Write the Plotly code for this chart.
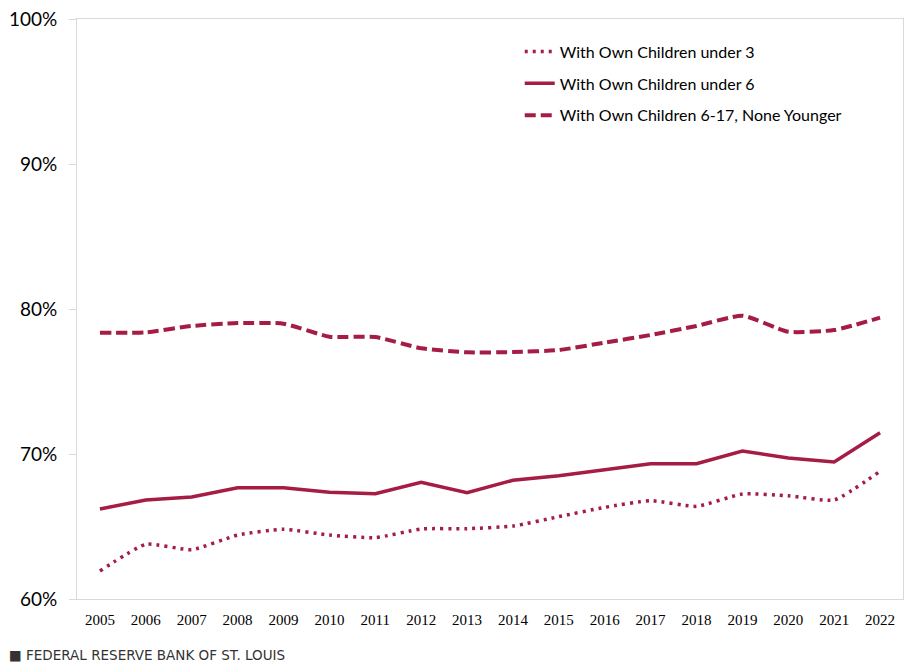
"""Share of mothers in the labor force by age of youngest child, 2005-2022."""

import plotly.graph_objects as go

YEARS = [str(y) for y in range(2005, 2023)]

UNDER_3 = [61.93, 63.77, 63.40, 64.41, 64.81, 64.41, 64.23, 64.83, 64.85,
           65.03, 65.68, 66.32, 66.78, 66.39, 67.24, 67.12, 66.83, 68.81]
UNDER_6 = [66.21, 66.83, 67.03, 67.67, 67.67, 67.36, 67.26, 68.05, 67.33,
           68.19, 68.50, 68.94, 69.33, 69.33, 70.21, 69.72, 69.45, 71.47]
AGE_6_17 = [78.37, 78.39, 78.83, 79.03, 78.99, 78.09, 78.07, 77.29, 77.01,
            77.03, 77.17, 77.68, 78.21, 78.83, 79.54, 78.43, 78.55, 79.40]

Y_TICKS = [60, 70, 80, 90, 100]
Y_LABELS = ["60%", "70%", "80%", "90%", "100%"]

RED = "#A51C45"
FRAME = "#D9D9D9"

fig = go.Figure()

fig.add_trace(go.Scatter(
    x=YEARS, y=UNDER_3, mode="lines", name="With Own Children under 3",
    legendgroup="a",
    line=dict(color=RED, width=3.5, dash="3px,5px", shape="spline", smoothing=0.5),
))
fig.add_trace(go.Scatter(
    x=YEARS, y=UNDER_6, mode="lines", name="With Own Children under 6",
    legendgroup="b",
    line=dict(color=RED, width=3.5),
))
fig.add_trace(go.Scatter(
    x=YEARS, y=AGE_6_17, mode="lines", name="With Own Children 6-17, None Younger",
    legendgroup="c",
    line=dict(color=RED, width=4, dash="11px,5px", shape="spline", smoothing=0.5),
))

# source line under the chart
fig.add_annotation(
    text="■ FEDERAL RESERVE BANK OF ST. LOUIS",
    xref="paper", yref="paper", x=0, y=0, xanchor="left", yanchor="middle",
    xshift=-70, yshift=-56, showarrow=False,
    font=dict(family="DejaVu Sans", size=13.5, color="#333333"),
)

# the page body adds an 8px offset, so the figure is sized to the visible area
fig.update_layout(
    width=904, height=654,
    margin=dict(l=69, r=9, t=11, b=63, autoexpand=False),
    paper_bgcolor="white", plot_bgcolor="white",
    font=dict(family="Lato", color="#000000"),
    showlegend=True,
    legend=dict(
        x=0.536, y=0.973, xanchor="left", yanchor="top",
        font=dict(family="Lato", size=16, color="#000000"),
        bgcolor="rgba(0,0,0,0)", tracegroupgap=8,
    ),
    xaxis=dict(
        type="category", range=[-0.5, 17.5], automargin=False,
        showgrid=False, showline=True, linecolor=FRAME, linewidth=1, mirror=True,
        ticks="", tickfont=dict(family="Liberation Sans Narrow", size=15),
        ticklabelstandoff=7, fixedrange=True,
    ),
    yaxis=dict(
        range=[60, 100], tickvals=Y_TICKS, ticktext=Y_LABELS, automargin=False,
        showgrid=False, zeroline=False,
        showline=True, linecolor=FRAME, linewidth=1, mirror=True,
        ticks="outside", ticklen=7, tickcolor=FRAME,
        tickfont=dict(family="Lato", size=19),
        ticklabelstandoff=8, ticklabeloverflow="allow",
        fixedrange=True,
    ),
)

fig.write_html("out.html")
